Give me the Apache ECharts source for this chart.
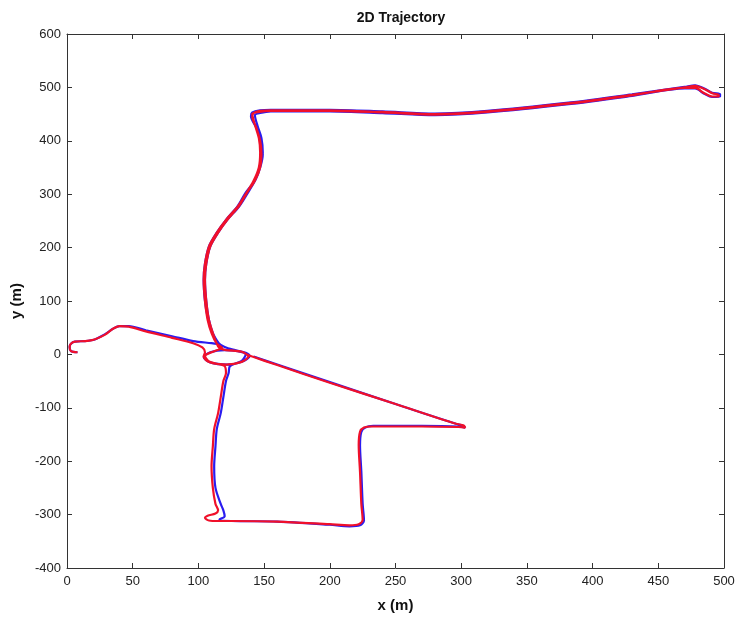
<!DOCTYPE html>
<html>
<head>
<meta charset="utf-8">
<script src="https://cdn.jsdelivr.net/npm/echarts@6/dist/echarts.min.js"></script>
<style>
  html, body { margin: 0; padding: 0; background: #fff; }
  #chart { width: 739px; height: 618px; }
</style>
</head>
<body>
<div id="chart"></div>
<script>
// trajectory, [x (m), y (m)]
const bluePath = [
  [8, 4], [3, 6], [2, 14], [3, 20], [6, 24], [14, 25], [21, 28], [29, 38], [35, 48], [40, 53], [47, 53],
  [60, 45], [80, 34], [96, 25], [110, 21], [116, 19],
  [113, 30], [110, 45], [107, 70], [105, 100], [104, 140], [105, 170], [108, 202], [114, 228], [121, 252],
  [130, 278], [136, 303], [143, 325], [147, 350], [149, 375], [148, 400], [144, 425], [140, 446], [141, 453],
  [147, 457], [155, 458], [200, 458], [240, 455], [280, 451], [320, 456], [380, 471], [430, 487], [470, 501],
  [478, 504], [485, 498], [491, 490], [497, 487], [497, 483], [491, 482], [485, 488], [478, 498], [470, 498],
  [430, 484], [380, 468], [320, 453], [280, 448], [240, 452], [200, 455], [155, 455], [147, 452], [143, 448],
  [145, 428], [148, 405], [149, 378], [147, 350], [143, 325], [137, 300], [131, 277], [122, 252], [115, 228],
  [109, 202], [106, 170], [105, 140], [106, 100], [108, 65], [111, 40], [115, 22], [120, 14],
  [128, 8], [136, 3], [139, -3], [134, -13], [122, -19], [109, -15], [104, -5], [109, 4], [120, 8],
  [130, 6], [136, 0], [133, -12], [124, -22], [123, -35], [121, -50], [119, -80], [117, -110],
  [114, -140], [113, -172], [112, -210], [113, -250], [117, -280], [119, -292], [120, -303], [116, -309],
  [125, -312], [160, -313], [200, -319], [215, -322], [223, -320], [226, -311], [225, -280], [224, -220],
  [223, -170], [224, -145], [227, -137], [233, -134], [270, -134], [298, -135], [303, -137], [301, -133],
  [296, -130], [250, -93], [200, -52], [160, -19], [142, -4]
];

const redPath = [
  [8, 4], [3, 6], [2, 14], [3, 20], [6, 24], [14, 25], [21, 28], [29, 37], [35, 48], [40, 53], [47, 52],
  [60, 43], [80, 31], [96, 21], [103, 13], [105, 4],
  [104, -4], [108, -14], [121, -19], [133, -14], [138, -4], [133, 5], [121, 8], [116, 12],
  [114, 20], [111, 40], [108, 65], [106, 100], [105, 140], [106, 170], [109, 202], [115, 228], [122, 252],
  [131, 278], [137, 303], [143, 325], [147, 350], [148, 375], [147, 400], [144, 425], [141, 445], [142, 452],
  [147, 456], [155, 457], [200, 457], [240, 454], [280, 450], [320, 455], [380, 470], [430, 486], [470, 500],
  [478, 503], [485, 497], [491, 489], [496, 486], [496, 483], [491, 483], [485, 489], [478, 499], [470, 499],
  [430, 485], [380, 469], [320, 454], [280, 449], [240, 453], [200, 456], [155, 456], [146, 454], [141, 450],
  [143, 430], [146, 405], [147, 378], [146, 350], [142, 325], [136, 300], [130, 277], [121, 252], [114, 228],
  [108, 202], [105, 170], [104, 140], [105, 100], [107, 65], [110, 40], [114, 20], [118, 12],
  [112, 6], [105, -3], [108, -13], [115, -18], [120, -22], [121, -35], [119, -50], [117, -80], [115, -110],
  [112, -140], [111, -172], [110, -210], [111, -250], [113, -280], [115, -292], [113, -298], [107, -302],
  [105, -306], [108, -311], [115, -312], [125, -312], [160, -313], [200, -318], [215, -320], [222, -318],
  [225, -310], [224, -280], [223, -220], [222, -170], [223, -145], [226, -137], [232, -135], [270, -135],
  [298, -136], [303, -137], [302, -133], [296, -130], [250, -93], [200, -53], [160, -20], [141, -4],
  [137, 0], [133, 5], [121, 8]
];

const xTicks = { min: 0, max: 500, step: 50 };
const yTicks = { min: -400, max: 600, step: 100 };

const font = 'Liberation Sans, Arial, sans-serif';
const axisColor = '#333';

function boxAxis(extra) {
  return Object.assign({
    type: 'value',
    axisLine: { show: true, onZero: false, lineStyle: { color: axisColor, width: 1 } },
    axisTick: { show: true, inside: true, length: 5, lineStyle: { color: axisColor } },
    splitLine: { show: false },
    axisLabel: { show: false }
  }, extra);
}

const chart = echarts.init(document.getElementById('chart'));
chart.setOption({
  animation: false,
  backgroundColor: '#fff',
  title: {
    text: '2D Trajectory',
    left: 396,
    top: 6,
    textAlign: 'center',
    textStyle: { fontFamily: font, fontSize: 14, fontWeight: 'bold', color: '#111' }
  },
  grid: { left: 67, right: 15, top: 34, bottom: 49, containLabel: false },
  xAxis: [
    boxAxis({
      position: 'bottom',
      min: xTicks.min, max: xTicks.max, interval: xTicks.step,
      axisLabel: { show: true, fontFamily: font, fontSize: 13, color: '#222', margin: 7 },
      name: 'x (m)',
      nameLocation: 'middle',
      nameGap: 30,
      nameTextStyle: { fontFamily: font, fontSize: 15, fontWeight: 'bold', color: '#111' }
    }),
    boxAxis({ position: 'top', min: xTicks.min, max: xTicks.max, interval: xTicks.step })
  ],
  yAxis: [
    boxAxis({
      position: 'left',
      min: yTicks.min, max: yTicks.max, interval: yTicks.step,
      axisLabel: { show: true, fontFamily: font, fontSize: 13, color: '#222', margin: 6 },
      name: 'y (m)',
      nameLocation: 'middle',
      nameGap: 37,
      nameRotate: 90,
      nameTextStyle: { fontFamily: font, fontSize: 15, fontWeight: 'bold', color: '#111' }
    }),
    boxAxis({ position: 'right', min: yTicks.min, max: yTicks.max, interval: yTicks.step })
  ],
  series: [
    {
      name: 'blue',
      type: 'line',
      data: bluePath,
      xAxisIndex: 0,
      yAxisIndex: 0,
      showSymbol: false,
      smooth: 0.3,
      lineStyle: { color: '#2a1cf0', width: 2.2 }
    },
    {
      name: 'red',
      type: 'line',
      data: redPath,
      xAxisIndex: 0,
      yAxisIndex: 0,
      showSymbol: false,
      smooth: 0.3,
      lineStyle: { color: '#f0102a', width: 2.2 }
    }
  ]
});
</script>
</body>
</html>
